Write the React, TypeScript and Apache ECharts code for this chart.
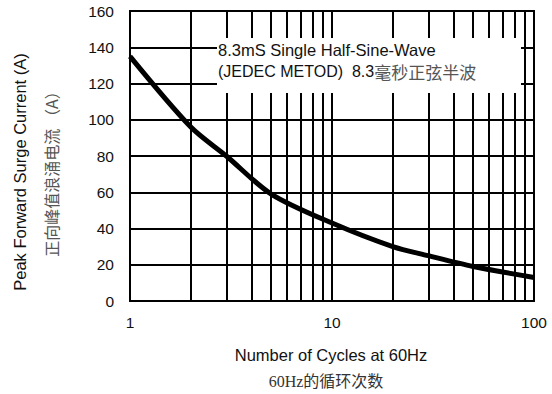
import React, { useEffect, useRef } from "react";
import * as echarts from "echarts";

const cycles = [1, 2, 3, 5, 10, 20, 30, 50, 70, 100];
const current = [135, 96, 80, 59, 43, 30, 25, 19, 16, 13];
const minorGridX = [2, 3, 4, 5, 6, 7, 8, 9, 20, 30, 40, 50, 60, 70, 80, 90];
const yTicks = { min: 0, max: 160, interval: 20 };
const annotationLine1 = "8.3mS Single Half-Sine-Wave";
const annotationLine2En = "(JEDEC METOD)  8.3";
const annotationLine2Zh = "毫秒正弦半波";
const yTitleEn = "Peak Forward Surge Current (A)";
const yTitleZh = "正向峰值浪涌电流 （A）";
const xTitleEn = "Number of Cycles at 60Hz";
const xTitleZh = "60Hz的循环次数";

const EN = "Liberation Sans, Arial, sans-serif";

export default function App() {
  const ref = useRef<HTMLDivElement>(null);
  useEffect(() => {
    const chart = echarts.init(ref.current!, null, { renderer: "svg" });
    chart.setOption({
      animation: false,
      grid: {
        left: 130,
        top: 11,
        right: 18,
        bottom: 93,
        show: true,
        borderColor: "#000",
        borderWidth: 2,
      },
      xAxis: {
        type: "log",
        logBase: 10,
        min: 1,
        max: 100,
        axisLine: { show: true, lineStyle: { color: "#000", width: 2 } },
        axisTick: { show: false },
        splitLine: { show: true, lineStyle: { color: "#000", width: 2 } },
        axisLabel: { color: "#111", fontSize: 15.5, fontFamily: EN, margin: 13 },
      },
      yAxis: {
        type: "value",
        ...yTicks,
        axisLine: { show: true, lineStyle: { color: "#000", width: 2 } },
        axisTick: { show: false },
        splitLine: { show: true, lineStyle: { color: "#000", width: 2 } },
        axisLabel: { color: "#111", fontSize: 15.5, fontFamily: EN, margin: 16 },
      },
      series: [
        {
          type: "line",
          data: cycles.map((c, i) => [c, current[i]]),
          smooth: 0.3,
          symbol: "none",
          lineStyle: { color: "#000", width: 5 },
          z: 5,
          markLine: {
            silent: true,
            symbol: "none",
            label: { show: false },
            lineStyle: { color: "#000", width: 2, type: "solid" },
            data: minorGridX.map((v) => ({ xAxis: v })),
            z: 1,
          },
        },
      ],
      graphic: [
        {
          type: "rect",
          shape: { x: 217, y: 38, width: 304, height: 55 },
          style: { fill: "#fff" },
          z: 100,
        },
        {
          type: "text",
          x: 218,
          y: 50,
          z: 101,
          style: {
            text: annotationLine1,
            font: `16.5px ${EN}`,
            fill: "#111",
            textVerticalAlign: "middle",
          },
        },
        {
          type: "text",
          x: 218,
          y: 71,
          z: 101,
          style: {
            text: `{en|${annotationLine2En}}{zh|${annotationLine2Zh}}`,
            textVerticalAlign: "middle",
            rich: {
              en: { font: `16px ${EN}`, fill: "#111" },
              zh: { font: `17px Noto Sans CJK SC, sans-serif`, fill: "#555" },
            },
          },
        },
        {
          type: "text",
          x: 20,
          y: 172,
          rotation: Math.PI / 2,
          style: {
            text: yTitleEn,
            font: `16.5px ${EN}`,
            fill: "#111",
            textAlign: "center",
            textVerticalAlign: "middle",
          },
        },
        {
          type: "text",
          x: 51,
          y: 170,
          rotation: Math.PI / 2,
          style: {
            text: yTitleZh,
            font: `16px Noto Sans CJK SC, sans-serif`,
            fill: "#555",
            textAlign: "center",
            textVerticalAlign: "middle",
          },
        },
        {
          type: "text",
          x: 331,
          y: 355,
          style: {
            text: xTitleEn,
            font: `16.5px ${EN}`,
            fill: "#111",
            textAlign: "center",
            textVerticalAlign: "middle",
          },
        },
        {
          type: "text",
          x: 326,
          y: 381,
          style: {
            text: xTitleZh,
            font: `16px Liberation Serif, Noto Sans CJK SC, serif`,
            fill: "#333",
            textAlign: "center",
            textVerticalAlign: "middle",
          },
        },
      ],
    });
    return () => chart.dispose();
  }, []);
  return <div ref={ref} style={{ width: 552, height: 394, position: "absolute", left: 0, top: 0 }} />;
}
